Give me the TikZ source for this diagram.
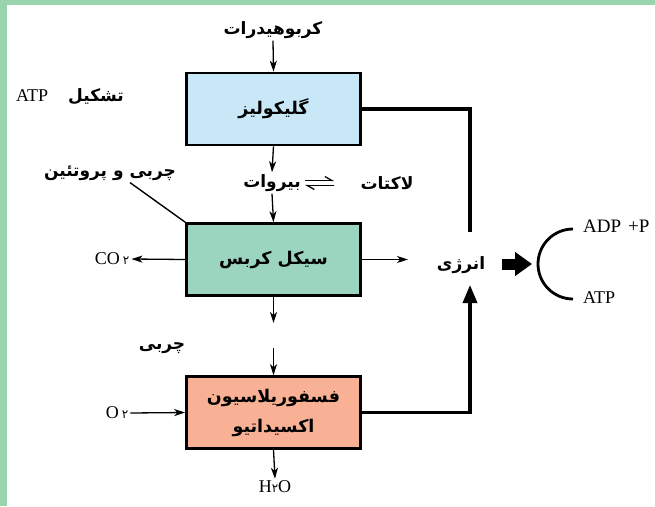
\documentclass[tikz,border=0pt]{standalone}
\usepackage{fontspec}
\setmainfont{Liberation Serif}
\newfontfamily\fa[Script=Arabic]{DejaVu Sans}
\TeXXeTstate=1
\usetikzlibrary{arrows.meta}
\definecolor{frameg}{HTML}{9AD4AF}
\definecolor{glyc}{HTML}{C8E8F8}
\definecolor{krebs}{HTML}{9BD5C0}
\definecolor{oxph}{HTML}{F8B194}
\newcommand{\fd}{{\fa\fontsize{12}{12}\selectfont ۲}}
\tikzset{
  procbox/.style={draw=black, line width=2.6pt, minimum width=174pt, minimum height=72pt, inner sep=0pt, font=\fa\bfseries\fontsize{17.5}{30}\selectfont, align=center},
  fatxt/.style={font=\fa\bfseries\fontsize{17}{20}\selectfont, inner sep=2pt},
  latxt/.style={font=\fontsize{18}{20}\selectfont, inner sep=2pt},
  arr/.style={-{Stealth[length=11pt,width=7pt,inset=3pt]}, line width=1.3pt},
  thickline/.style={line width=3.4pt},
  blockarr/.style={line width=11pt, -{Triangle[length=17pt,width=23pt]}},
  harp/.style={line width=1.3pt, -{Straight Barb[left, length=7pt, width=8pt]}},
}
\begin{document}
\begin{tikzpicture}[x=1pt,y=-1pt]
\useasboundingbox (0,0) rectangle (655,506);
\fill[frameg] (0,0) rectangle (655,506);
\fill[white] (7,5) rectangle (655,506);

% boxes
\node[procbox, fill=glyc] (gly) at (273.5,109) {\beginR گلیکولیز\endR};
\node[procbox, fill=krebs] (kreb) at (273.5,259.5) {\beginR سیکل کربس\endR};
\node[procbox, fill=oxph] (oxp) at (273.5,412.5) {\beginR فسفوریلاسیون\endR\\\beginR اکسیداتیو\endR};

% texts
\node[fatxt] (carb) at (273,30) {\beginR کربوهیدرات\endR};
\node[inner sep=0pt] (atpform) at (70,97) {{\fontsize{18}{20}\selectfont ATP}\hspace{20pt}{\fa\bfseries\fontsize{17}{20}\selectfont\beginR تشکیل\endR}};
\node[fatxt] (pyr) at (272,183) {\beginR بیروات\endR};
\node[fatxt] (lac) at (387,183) {\beginR لاکتات\endR};
\node[fatxt] (fatprot) at (110,173) {\beginR چربی و پروتئین\endR};
\node[latxt] (co2) at (112,259) {CO\,\fd};
\node[fatxt] (energy) at (461,265) {\beginR انرژی\endR};
\node[fatxt] (fat) at (162,348) {\beginR چربی\endR};
\node[latxt] (o2) at (117,413) {O\,\fd};
\node[latxt] (h2o) at (275,487) {H\fd O};
\node[latxt, anchor=west, font=\fontsize{19}{20}\selectfont] (adp) at (581,226) {ADP\hspace{7pt}+P};
\node[latxt, anchor=west] (atp) at (581,298) {ATP};

\coordinate (krebR) at (408,259.5);
\coordinate (krebD) at (273.5,323);
\coordinate (fatA) at (273.5,348);
\coordinate (arcT) at (573,229);
\coordinate (arcL) at (538,264);
\coordinate (eTop) at (470,232);
\coordinate (eBot) at (470,285);
\coordinate (bStart) at (502,264);

% arrows
\draw[arr] (carb.south) -- (gly.north);
\draw[arr] (gly.south) -- (pyr.north);
\draw[arr] (pyr.south) -- (kreb.north);
% equilibrium harpoons (canvas yshift: positive = up)
\draw[harp] ([yshift=2.5pt,xshift=2pt]pyr.east) -- ([yshift=2.5pt,xshift=-24pt]lac.west);
\draw[harp] ([yshift=-2.5pt,xshift=-24pt]lac.west) -- ([yshift=-2.5pt,xshift=2pt]pyr.east);
\draw[line width=1.4pt] ([xshift=20pt]fatprot.south) -- (kreb.north west);
\draw[arr] (kreb.west) -- (co2.east);
\draw[arr] (kreb.east) -- (krebR);
\draw[arr] (kreb.south) -- (krebD);
\draw[arr] (fatA) -- (oxp.north);
\draw[arr] (o2.east) -- (oxp.west);
\draw[arr] (oxp.south) -- (h2o.north);

% energy connections
\draw[thickline] (gly.east) -| (eTop);
\draw[thickline, -{Triangle[length=18pt,width=14pt]}] (oxp.east) -| (eBot);
\draw[blockarr] (bStart) -- ([xshift=-6pt]arcL);
\draw[line width=2.8pt] (arcT) arc[start angle=90, end angle=270, radius=35pt];
\end{tikzpicture}
\end{document}
